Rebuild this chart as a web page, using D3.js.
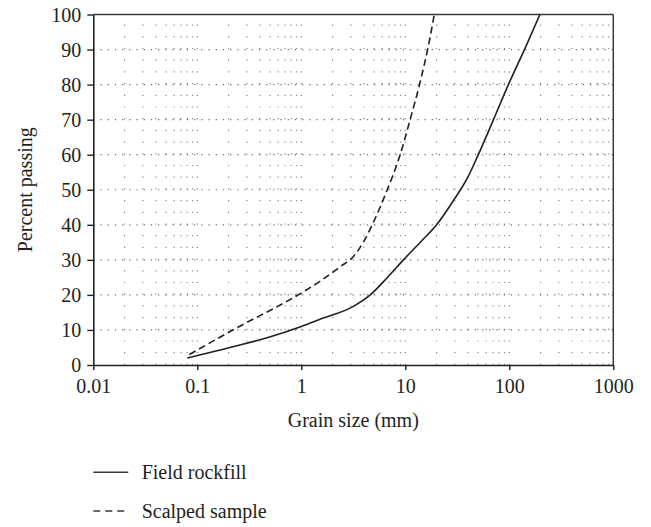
<!DOCTYPE html>
<html>
<head>
<meta charset="utf-8">
<script src="https://cdn.jsdelivr.net/npm/d3@7"></script>
<style>
  body { margin: 0; background: #fff; }
  text { font-family: "Liberation Serif", "DejaVu Serif", serif; fill: #231f20; }
</style>
</head>
<body>
<div id="chart"></div>
<script>
var svgWidth = 651;
var svgHeight = 527;

var margin = { top: 14.5, right: 38, bottom: 162, left: 93.3 };
var width = 613.3 - margin.left;
var height = 365 - margin.top;

// Data (grain size in mm, percent passing)
var fieldSize = [0.08, 0.22, 0.46, 1, 1.5, 3.2, 4.6, 6.6, 9.6, 13.8, 20, 29, 39, 50, 70, 98, 142, 197];
var fieldPass = [2, 5.2, 7.7, 11, 13, 16.8, 20, 24.7, 30, 34.9, 40, 46.9, 53, 59.8, 69.8, 80, 90.4, 100];

var scalpedSize = [0.084, 0.22, 0.97, 1.5, 2.36, 3.16, 3.94, 4.9, 6.5, 8.9, 11.1, 13.8, 16.6, 19];
var scalpedPass = [3, 10, 20.3, 23.8, 28, 30.9, 35, 40.5, 49, 59.9, 69.9, 80.4, 90.8, 100];

var xTicks = [0.01, 0.1, 1, 10, 100, 1000];
var xTickLabels = ["0.01", "0.1", "1", "10", "100", "1000"];
var yTicks = [0, 10, 20, 30, 40, 50, 60, 70, 80, 90, 100];

var seriesNames = ["Field rockfill", "Scalped sample"];

var svg = d3.select("#chart")
  .append("svg")
  .attr("width", svgWidth)
  .attr("height", svgHeight);

var chartGroup = svg.append("g")
  .attr("transform", `translate(${margin.left}, ${margin.top})`);

var xScale = d3.scaleLog().domain([0.01, 1000]).range([0, width]);
var yScale = d3.scaleLinear().domain([0, 100]).range([height, 0]);

// minor + major vertical gridlines (sparse dots)
var vGrid = [];
xTicks.forEach(function(t, i) {
  if (i === xTicks.length - 1) return;
  for (var k = 1; k < 10; k++) vGrid.push(t * k);
});

chartGroup.append("g")
  .selectAll("line")
  .data(vGrid.filter(d => d > 0.01))
  .enter()
  .append("line")
  .attr("x1", d => xScale(d))
  .attr("x2", d => xScale(d))
  .attr("y1", height)
  .attr("y2", 0)
  .attr("stroke", "#8a8a8a")
  .attr("stroke-width", 1.2)
  .attr("stroke-dasharray", "1.2,10.5");

// horizontal gridlines (dense dots)
chartGroup.append("g")
  .selectAll("line")
  .data(yTicks.filter(d => d > 0 && d < 100))
  .enter()
  .append("line")
  .attr("x1", 0)
  .attr("x2", width)
  .attr("y1", d => yScale(d))
  .attr("y2", d => yScale(d))
  .attr("stroke", "#6a6a6a")
  .attr("stroke-width", 1.2)
  .attr("stroke-dasharray", "1.2,6");

// frame (top and right)
chartGroup.append("line")
  .attr("x1", 0).attr("x2", width).attr("y1", 0).attr("y2", 0)
  .attr("stroke", "#3a3a3a").attr("stroke-width", 1.5);
chartGroup.append("line")
  .attr("x1", width).attr("x2", width).attr("y1", 0).attr("y2", height)
  .attr("stroke", "#3a3a3a").attr("stroke-width", 1.5);

// axes
var bottomAxis = d3.axisBottom(xScale)
  .tickValues(xTicks)
  .tickFormat((d, i) => xTickLabels[i])
  .tickSize(5)
  .tickSizeOuter(0)
  .tickPadding(9);

var leftAxis = d3.axisLeft(yScale)
  .tickValues(yTicks)
  .tickSize(6)
  .tickSizeOuter(0)
  .tickPadding(6);

var xAxisG = chartGroup.append("g")
  .attr("transform", `translate(0, ${height})`)
  .call(bottomAxis);

var yAxisG = chartGroup.append("g")
  .call(leftAxis);

[xAxisG, yAxisG].forEach(function(g) {
  g.select(".domain").attr("stroke", "#231f20").attr("stroke-width", 1.6);
  g.selectAll(".tick line").attr("stroke", "#231f20").attr("stroke-width", 1.4);
  g.selectAll(".tick text")
    .attr("font-family", "Liberation Serif, serif")
    .attr("font-size", "20px")
    .attr("fill", "#231f20");
});
yAxisG.selectAll(".tick text").attr("dy", "0.34em");

// curves
var fieldData = fieldSize.map((s, i) => ({ size: s, pass: fieldPass[i] }));
var scalpedData = scalpedSize.map((s, i) => ({ size: s, pass: scalpedPass[i] }));

var line = d3.line()
  .x(d => xScale(d.size))
  .y(d => yScale(d.pass))
  .curve(d3.curveMonotoneX);

chartGroup.append("path")
  .datum(fieldData)
  .attr("d", line)
  .attr("fill", "none")
  .attr("stroke", "#231f20")
  .attr("stroke-width", 1.6);

chartGroup.append("path")
  .datum(scalpedData)
  .attr("d", line)
  .attr("fill", "none")
  .attr("stroke", "#231f20")
  .attr("stroke-width", 1.6)
  .attr("stroke-dasharray", "7,4");

// axis labels
svg.append("text")
  .attr("transform", `translate(25, ${margin.top + height / 2}) rotate(-90)`)
  .attr("text-anchor", "middle")
  .attr("dy", "0.35em")
  .attr("font-size", "20px")
  .text("Percent passing");

svg.append("text")
  .attr("x", margin.left + width / 2)
  .attr("y", 420)
  .attr("text-anchor", "middle")
  .attr("dy", "0.35em")
  .attr("font-size", "20px")
  .text("Grain size (mm)");

// legend
var legend = svg.append("g");
seriesNames.forEach(function(name, i) {
  var y = 472.3 + i * 38.7;
  legend.append("line")
    .attr("x1", 93.3).attr("x2", 128.3)
    .attr("y1", y).attr("y2", y)
    .attr("stroke", "#3a3a3a")
    .attr("stroke-width", 1.5)
    .attr("stroke-dasharray", i === 1 ? "7,5" : null);
  legend.append("text")
    .attr("x", 141.7)
    .attr("y", y)
    .attr("dy", "0.35em")
    .attr("font-size", "20px")
    .text(name);
});
</script>
</body>
</html>
